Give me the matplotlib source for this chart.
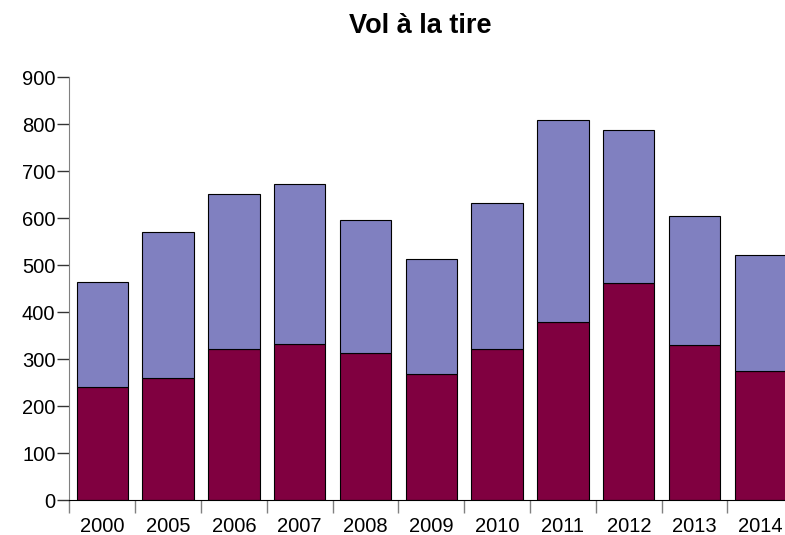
import numpy as np
import matplotlib.pyplot as plt

plt.rcParams['font.family'] = ['Liberation Sans', 'DejaVu Sans']

annees = ['2000', '2005', '2006', '2007', '2008', '2009', '2010', '2011', '2012', '2013', '2014']
# serie du bas (bordeaux) et serie du haut (mauve), empilees
bas = [240, 259, 321, 332, 314, 268, 321, 378, 462, 331, 274]
haut = [225, 312, 331, 341, 282, 245, 311, 431, 325, 273, 248]

fig = plt.figure(figsize=(7.85, 5.35), dpi=100)
ax = fig.add_axes([69.3 / 785, 35 / 535, 724 / 785, 422.7 / 535])

x = np.arange(len(annees))
ax.bar(x, bas, width=0.78, color='#800040', edgecolor='black', linewidth=0.8)
ax.bar(x, haut, width=0.78, bottom=bas, color='#8080c0', edgecolor='black', linewidth=0.8)

ax.set_xlim(-0.5, len(annees) - 0.5)
ax.set_ylim(0, 900)
ax.set_yticks(range(0, 901, 100))

# graduations entre les barres, etiquettes au centre
ax.set_xticks(np.arange(len(annees) + 1) - 0.5)
ax.set_xticklabels([])
ax.set_xticks(x, minor=True)
ax.set_xticklabels(annees, minor=True)
ax.tick_params(axis='x', which='major', length=9.5, width=1, color='#808080', direction='out')
ax.tick_params(axis='x', which='minor', length=0, pad=12, labelsize=14.5)
ax.tick_params(axis='y', length=9, width=1, color='#333333', labelsize=14.5, pad=1)

for s in ['top', 'right']:
    ax.spines[s].set_visible(False)
ax.spines['left'].set_color('#808080')
ax.spines['bottom'].set_color('black')

fig.suptitle('Vol à la tire', x=420 / 785, y=0.975, fontsize=19.5, fontweight='bold')

fig.savefig('out.png', dpi=100)
